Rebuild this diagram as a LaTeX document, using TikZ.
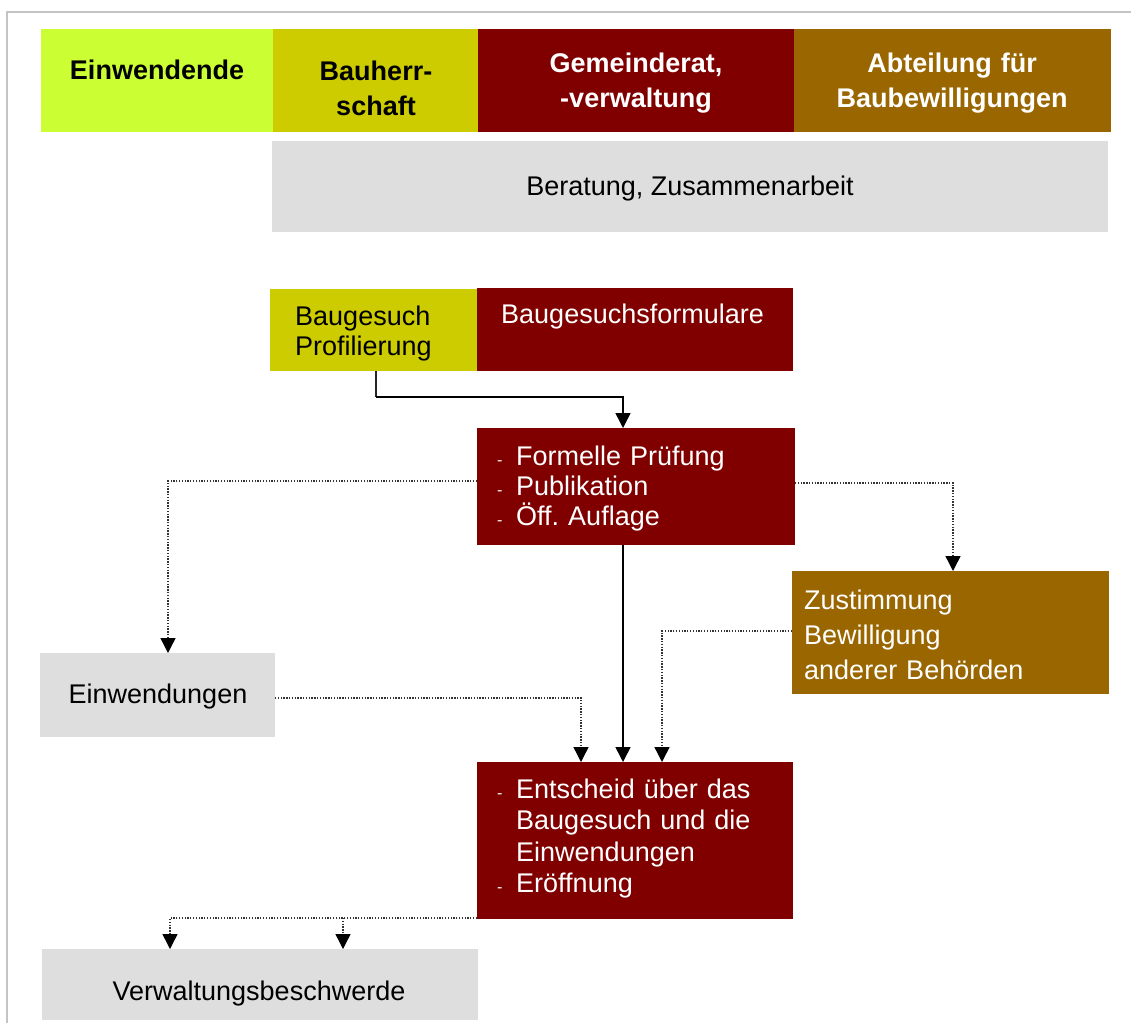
\documentclass[tikz,border=0pt]{standalone}
\usepackage{fontspec}
\setmainfont{Liberation Sans}
\usetikzlibrary{arrows.meta,calc}
\frenchspacing
\definecolor{cGreen}{HTML}{CCFF33}
\definecolor{cOlive}{HTML}{CCCC00}
\definecolor{cRed}{HTML}{800000}
\definecolor{cBrown}{HTML}{996600}
\definecolor{cGray}{HTML}{DEDEDE}
\definecolor{cFrame}{HTML}{C4C4C4}
\newcommand{\dsh}{\makebox[19pt][l]{\fontsize{16}{16}\selectfont -}}
\newcommand{\ind}{\hspace*{19pt}}
\tikzset{
  cbox/.style={inner sep=0pt, outer sep=0pt, anchor=north west, draw=none},
  hdr/.style={font=\bfseries\fontsize{27}{35}\selectfont, text width=310pt, align=center, anchor=base, inner sep=0pt},
  txt/.style={font=\fontsize{27}{31}\selectfont, text width=310pt, align=left, anchor=base west, inner sep=0pt},
  ctxt/.style={font=\fontsize{27}{31}\selectfont, anchor=base, inner sep=0pt},
  solidarrow/.style={line width=1.5pt, draw=black, -{Triangle[length=15pt,width=15pt]}},
  solidline/.style={line width=1.5pt, draw=black!85},
  dotarrow/.style={line width=1.4pt, draw=black!80, dash pattern=on 1.3pt off 1.5pt,
    -{Triangle[length=15pt,width=15pt,color=black]}},
}
\begin{document}
\begin{tikzpicture}[x=1pt,y=-1pt]
\useasboundingbox (0,0) rectangle (1131,1023);
\coordinate (fbl) at (7,1023);
\coordinate (ftl) at (7,12);
\coordinate (ftr) at (1131,12);
\draw[cFrame, line width=1.5pt] (fbl) -- (ftl) -- (ftr);

% header
\node[cbox, fill=cGreen, minimum width=232pt, minimum height=103pt] (h1) at (41,29) {};
\node[cbox, fill=cOlive, minimum width=205pt, minimum height=103pt] (h2) at (273,29) {};
\node[cbox, fill=cRed,   minimum width=316pt, minimum height=103pt] (h3) at (478,29) {};
\node[cbox, fill=cBrown, minimum width=317pt, minimum height=103pt] (h4) at (794,29) {};
\node[hdr] (h1t) at (157,79) {Einwendende};
\node[hdr] (h2t) at (376,80) {Bauherr-\\schaft};
\node[hdr, text=white] (h3t) at (636,72) {Gemeinderat,\\-verwaltung};
\node[hdr, text=white] (h4t) at (952,72) {Abteilung für\\Baubewilligungen};

% Beratung
\node[cbox, fill=cGray, minimum width=836pt, minimum height=91pt] (ber) at (272,141) {};
\node[ctxt] (bert) at (690,195) {Beratung, Zusammenarbeit};

% Baugesuch
\node[cbox, fill=cOlive, minimum width=207pt, minimum height=82pt] (bp) at (270,289) {};
\node[txt, font=\fontsize{27}{30}\selectfont] (bpt) at (295,325) {Baugesuch\\Profilierung};
\node[cbox, fill=cRed, minimum width=316pt, minimum height=83pt] (bf) at (477,288) {};
\node[txt, text=white] (bft) at (501,323) {Baugesuchsformulare};

% Formelle Pruefung
\node[cbox, fill=cRed, minimum width=318pt, minimum height=117pt] (fp) at (477,428) {};
\node[txt, text=white, font=\fontsize{27}{30}\selectfont] (fpt) at (497,465) {\dsh Formelle Prüfung\\\dsh Publikation\\\dsh Öff. Auflage};

% Zustimmung
\node[cbox, fill=cBrown, minimum width=317pt, minimum height=123pt] (zus) at (792,571) {};
\node[txt, text=white, font=\fontsize{27}{35}\selectfont] (zust) at (804,609) {Zustimmung\\Bewilligung\\anderer Behörden};

% Einwendungen
\node[cbox, fill=cGray, minimum width=235pt, minimum height=84pt] (ein) at (40,653) {};
\node[ctxt] (eint) at (158,703) {Einwendungen};

% Entscheid
\node[cbox, fill=cRed, minimum width=316pt, minimum height=157pt] (ent) at (477,762) {};
\node[txt, text=white, font=\fontsize{27}{31.5}\selectfont] (entt) at (497,798) {\dsh Entscheid über das\\\ind Baugesuch und die\\\ind Einwendungen\\\dsh Eröffnung};

% Verwaltungsbeschwerde
\node[cbox, fill=cGray, minimum width=436pt, minimum height=71pt] (vb) at (42,949) {};
\node[ctxt] (vbt) at (259,1000) {Verwaltungsbeschwerde};

% connectors
\draw[solidline] ([xshift=2.5pt]bp.south) -- ++(0,26) coordinate (k1);
\draw[solidarrow] (k1) -| ([xshift=-13pt]fp.north);
\draw[solidarrow] ([xshift=-13pt]fp.south) -- ([xshift=-13pt]fp.south |- ent.north);
\draw[dotarrow] ([yshift=5.5pt]fp.west) -| ([xshift=10.5pt]ein.north);
\draw[dotarrow] ([yshift=3.5pt]fp.east) -| ([xshift=2.5pt]zus.north);
\draw[dotarrow] ([yshift=1.5pt]zus.west) -| ([xshift=27pt]ent.north);
\draw[dotarrow] ([yshift=-3pt]ein.east) -| ([xshift=-54pt]ent.north);
\coordinate (j) at ([yshift=1pt]ent.south west);
\draw[dotarrow] (j) -| ([xshift=-90pt]vb.north);
\draw[dotarrow] ([xshift=83pt]vb.north |- j) -- ([xshift=83pt]vb.north);
\end{tikzpicture}
\end{document}
